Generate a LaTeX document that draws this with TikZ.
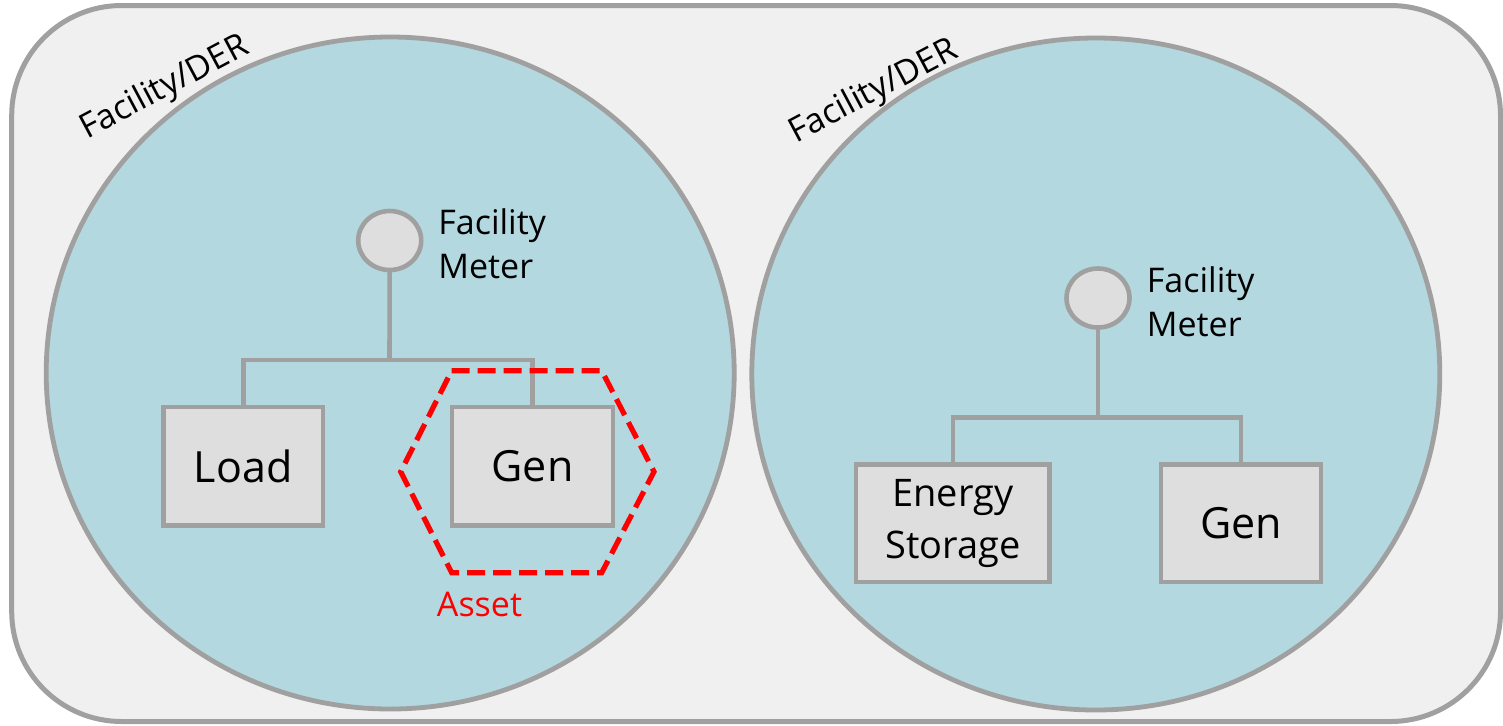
\documentclass[tikz,border=0pt]{standalone}
\usepackage{fontspec}
\setmainfont{Open Sans}
\usetikzlibrary{shapes.geometric}
\definecolor{bgc}{HTML}{F0F0F0}
\definecolor{brd}{HTML}{A0A0A0}
\definecolor{blu}{HTML}{B3D8DF}
\definecolor{boxc}{HTML}{DEDEDE}
\tikzset{
  outerbox/.style={rectangle, rounded corners=55pt, draw=brd, fill=bgc, line width=2.5pt, inner sep=0pt, outer sep=0pt},
  facility/.style={ellipse, draw=brd, fill=blu, line width=2.4pt, inner sep=0pt, outer sep=0pt, minimum width=344pt, minimum height=336pt},
  meter/.style={ellipse, draw=brd, fill=boxc, line width=2.3pt, inner sep=0pt, outer sep=0pt, minimum width=31.5pt, minimum height=29.5pt},
  unit/.style={rectangle, draw=brd, fill=boxc, line width=2.3pt, inner sep=0pt, outer sep=0pt, align=center},
  wire/.style={draw=brd, line width=2.3pt},
  metertext/.style={anchor=west, align=left, inner sep=0pt, font=\fontsize{17}{22}\selectfont},
  dertext/.style={anchor=base, inner sep=0pt, rotate=28, font=\fontsize{17}{20}\selectfont},
  assetline/.style={draw=red, line width=2.6pt, dash pattern=on 9pt off 4pt},
}
\begin{document}
\begin{tikzpicture}[x=0.5pt, y=-0.5pt]
\useasboundingbox (0,0) rectangle (1503,725);
\node[outerbox, minimum width=744.4pt, minimum height=358pt] (outer) at (756.1,363.5) {};
% facilities
\node[facility] (fac1) at (390.2,373) {};
\node[facility] (fac2) at (1095.8,374) {};
\node[dertext] (der1) at (169,96) {Facility/DER};
\node[dertext] (der2) at (878,100) {Facility/DER};
% left facility
\node[meter] (m1) at (389.7,240.5) {};
\node[metertext] (m1t) at (438,243.5) {Facility\\Meter};
\node[unit, minimum width=79.9pt, minimum height=59.2pt, font=\fontsize{21.5}{26}\selectfont] (load) at (243.2,466.2) {Load};
\node[unit, minimum width=80.5pt, minimum height=59.2pt, font=\fontsize{21.5}{26}\selectfont] (gen1) at (532.5,466.2) {Gen};
\coordinate (b1) at (389.5,360);
\draw[wire] (m1.south) -- (b1);
\draw[wire] (load.north) |- (b1) -| (gen1.north);
% asset
\draw[assetline] (451.7,370.7) -- (601.7,370.7) -- (654,471.7) -- (601.7,572.7) -- (451.7,572.7) -- (400.7,471.7) -- cycle;
\node[anchor=base, inner sep=0pt, text=red, font=\fontsize{17}{20}\selectfont] (asset) at (479.5,616) {Asset};
% right facility
\node[meter] (m2) at (1098,298) {};
\node[metertext] (m2t) at (1146.5,301.5) {Facility\\Meter};
\node[unit, minimum width=96.8pt, minimum height=58.9pt, font=\fontsize{19}{26}\selectfont] (es) at (952.9,523.2) {Energy\\Storage};
\node[unit, minimum width=80pt, minimum height=58.9pt, font=\fontsize{21.5}{26}\selectfont] (gen2) at (1241,523.2) {Gen};
\coordinate (b2) at (1098,417.5);
\draw[wire] (m2.south) -- (b2);
\draw[wire] (es.north) |- (b2) -| (gen2.north);
\end{tikzpicture}
\end{document}
